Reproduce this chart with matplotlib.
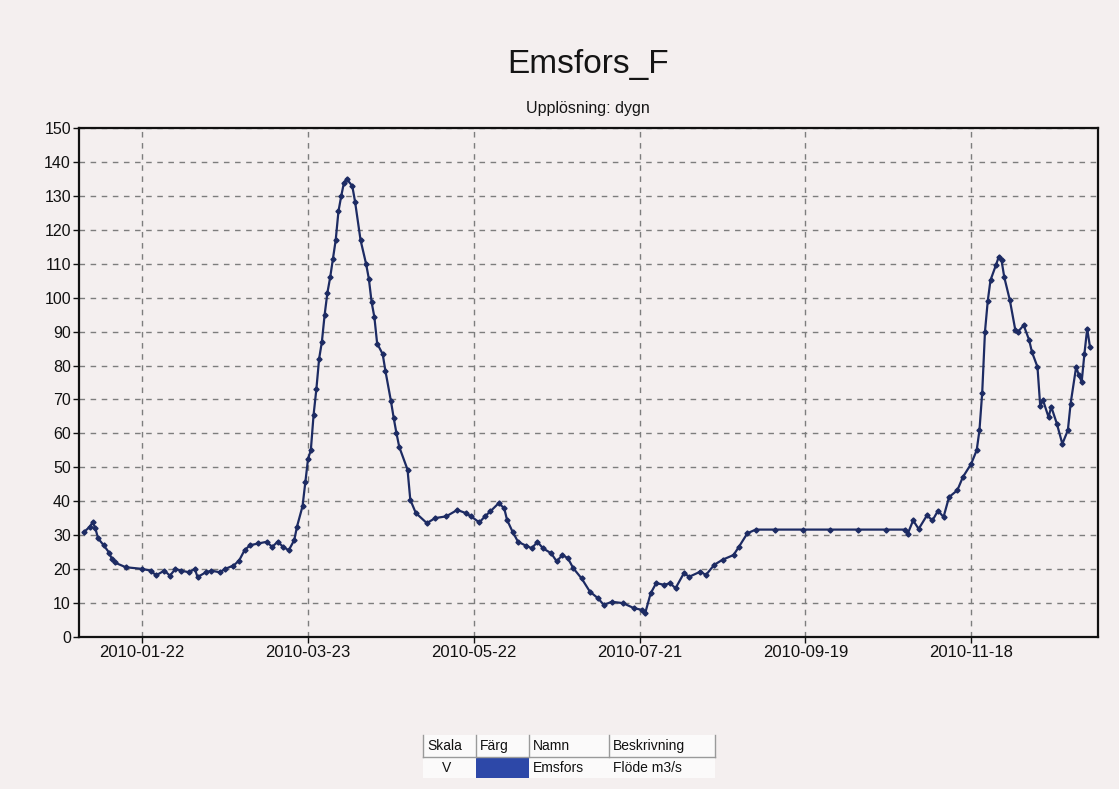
import matplotlib
matplotlib.use("Agg")
import matplotlib.pyplot as plt
import matplotlib.dates as mdates
from matplotlib.patches import Rectangle
from matplotlib.lines import Line2D
import pandas as pd

# ---------------- data ----------------
title = "Emsfors_F"
subtitle = "Upplösning: dygn"

# day offset from 2010-01-01 and daily flow (m3/s)
day_offset = [0, 2, 3, 4, 5, 7, 9, 10, 11, 15, 21, 24, 26, 29, 31, 33, 35, 38, 40, 41,
              44, 46, 49, 51, 54, 56, 58, 60, 63, 66, 68, 70, 72, 74, 76, 77, 79, 80,
              81, 82, 83, 84, 85, 86, 87, 88, 89, 90, 91, 92, 93, 94, 95, 97, 98, 100,
              102, 103, 104, 105, 106, 108, 109, 111, 112, 113, 114, 117, 118, 120, 124,
              127, 131, 135, 138, 140, 143, 145, 147, 150, 152, 153, 155, 157, 160, 162,
              164, 166, 169, 171, 173, 175, 177, 180, 183, 186, 188, 191, 195, 199, 202,
              203, 205, 207, 210, 212, 214, 217, 219, 223, 225, 228, 231, 235, 237, 240,
              243, 250, 260, 270, 280, 290, 297, 298, 300, 302, 305, 307, 309, 311, 313,
              316, 318, 321, 323, 324, 325, 326, 327, 328, 330, 331, 332, 333, 335, 337,
              338, 340, 342, 343, 345, 346, 347, 349, 350, 352, 354, 356, 357, 359, 360,
              361, 362, 363, 364]
flow = [31.0, 32.4, 33.8, 32.0, 29.0, 27.0, 24.8, 22.9, 21.9, 20.5, 20.0, 19.5, 18.1, 19.5,
        18.0, 20.0, 19.5, 19.0, 20.0, 17.6, 19.0, 19.5, 19.0, 20.0, 21.0, 22.4, 25.5, 27.0,
        27.5, 28.0, 26.5, 28.0, 26.5, 25.5, 28.5, 32.5, 38.5, 45.5, 52.5, 55.0, 65.5, 73.0,
        82.0, 87.0, 95.0, 101.5, 106.0, 111.5, 117.0, 125.5, 130.0, 134.0, 135.0, 133.0,
        128.4, 117.0, 110.0, 105.6, 98.7, 94.3, 86.5, 83.4, 78.4, 69.5, 64.5, 60.0, 56.0,
        49.3, 40.4, 36.5, 33.5, 35.0, 35.5, 37.4, 36.5, 35.5, 33.7, 35.5, 37.0, 39.4, 37.9,
        34.5, 31.0, 28.0, 26.8, 26.1, 28.0, 26.1, 24.6, 22.2, 24.1, 23.2, 20.2, 17.2, 13.3,
        11.3, 9.4, 10.3, 9.9, 8.4, 7.9, 6.9, 12.8, 15.8, 15.3, 15.8, 14.3, 18.7, 17.7, 19.2,
        18.2, 21.2, 22.7, 24.1, 26.6, 30.5, 31.6, 31.6, 31.6, 31.6, 31.6, 31.6, 31.6, 30.3,
        34.3, 31.8, 35.8, 34.3, 37.2, 35.3, 41.2, 43.2, 47.1, 51.0, 55.0, 60.9, 72.0, 90.0,
        99.0, 105.2, 109.7, 112.1, 111.0, 106.0, 99.3, 90.4, 90.0, 91.9, 87.5, 84.0, 79.6,
        68.0, 69.8, 64.8, 67.8, 62.9, 56.9, 60.9, 68.8, 79.6, 77.1, 75.2, 83.5, 90.9, 85.5]

x_ticks = ["2010-01-22", "2010-03-23", "2010-05-22", "2010-07-21", "2010-09-19", "2010-11-18"]
y_ticks = list(range(0, 151, 10))

legend_header = ["Skala", "Färg", "Namn", "Beskrivning"]
legend_row = ["V", "", "Emsfors", "Flöde m3/s"]

# ---------------- figure ----------------
W, H = 1119, 789
BG = "#f4efef"
LINE = "#1d2b63"
plt.rcParams['font.family'] = ['Liberation Sans', 'DejaVu Sans']

fig = plt.figure(figsize=(W / 100, H / 100), dpi=100, facecolor=BG)


def fx(x):
    return x / W


def fy(y):
    return 1 - y / H


left, right, top, bottom = 79.3, 1097.7, 128.3, 636.7
ax = fig.add_axes([fx(left), fy(bottom), fx(right) - fx(left), fy(top) - fy(bottom)])
ax.set_facecolor(BG)

dates = pd.Timestamp("2010-01-01") + pd.to_timedelta(day_offset, unit="D")
ax.plot(dates, flow, color=LINE, lw=1.6, marker="D", ms=2.6, mfc=LINE, mec=LINE,
        solid_joinstyle="round")

tick_dates = pd.to_datetime(x_ticks)
ax.set_xlim(tick_dates[0] - pd.Timedelta(days=22.8), tick_dates[0] + pd.Timedelta(days=345.8))
ax.set_ylim(0, 150)
ax.set_xticks(tick_dates)
ax.set_xticklabels(x_ticks)
ax.set_yticks(y_ticks)
ax.set_yticklabels([str(v) for v in y_ticks])
ax.tick_params(axis="y", labelsize=11.5, colors="#111111", length=4, width=1, pad=2)
ax.tick_params(axis="x", labelsize=12, colors="#111111", length=4, width=1, pad=2)

ax.grid(True, color="#7d7d7d", linestyle=(0, (4, 4)), linewidth=1.0)
ax.set_axisbelow(True)
for s in ax.spines.values():
    s.set_linewidth(1.6)
    s.set_color("#111111")

fig.text(fx(588), fy(65), title, ha="center", va="center", fontsize=24, color="#151515")
fig.text(fx(588), fy(108), subtitle, ha="center", va="center", fontsize=11.5, color="#151515")

# ---------------- legend table ----------------
col_edges = [423, 476, 529, 609, 715]
row_edges = [735, 757, 778]
fig.patches.append(Rectangle((fx(col_edges[0]), fy(row_edges[2])),
                             fx(col_edges[-1]) - fx(col_edges[0]), fy(row_edges[0]) - fy(row_edges[2]),
                             transform=fig.transFigure, facecolor="#fbfafa", edgecolor="none"))
fig.patches.append(Rectangle((fx(col_edges[1]), fy(row_edges[2])),
                             fx(col_edges[2]) - fx(col_edges[1]), fy(row_edges[1]) - fy(row_edges[2]),
                             transform=fig.transFigure, facecolor="#2d48a8", edgecolor="none"))
fig.lines.append(Line2D([fx(col_edges[0]), fx(col_edges[-1])], [fy(row_edges[1]), fy(row_edges[1])],
                        transform=fig.transFigure, color="#9a9a9a", lw=1))
for c in col_edges:
    fig.lines.append(Line2D([fx(c), fx(c)], [fy(row_edges[0]), fy(row_edges[1])],
                            transform=fig.transFigure, color="#9a9a9a", lw=1))

text_x = [427, 480, 533, 613]
for i, t in enumerate(legend_header):
    fig.text(fx(text_x[i]), fy((row_edges[0] + row_edges[1]) / 2), t, ha="left", va="center",
             fontsize=10, color="#111111")
row_y = fy((row_edges[1] + row_edges[2]) / 2)
fig.text(fx(447), row_y, legend_row[0], ha="center", va="center", fontsize=10, color="#111111")
fig.text(fx(text_x[2]), row_y, legend_row[2], ha="left", va="center", fontsize=10, color="#111111")
fig.text(fx(text_x[3]), row_y, legend_row[3], ha="left", va="center", fontsize=10, color="#111111")

fig.savefig("out.png", dpi=100, facecolor=BG)
